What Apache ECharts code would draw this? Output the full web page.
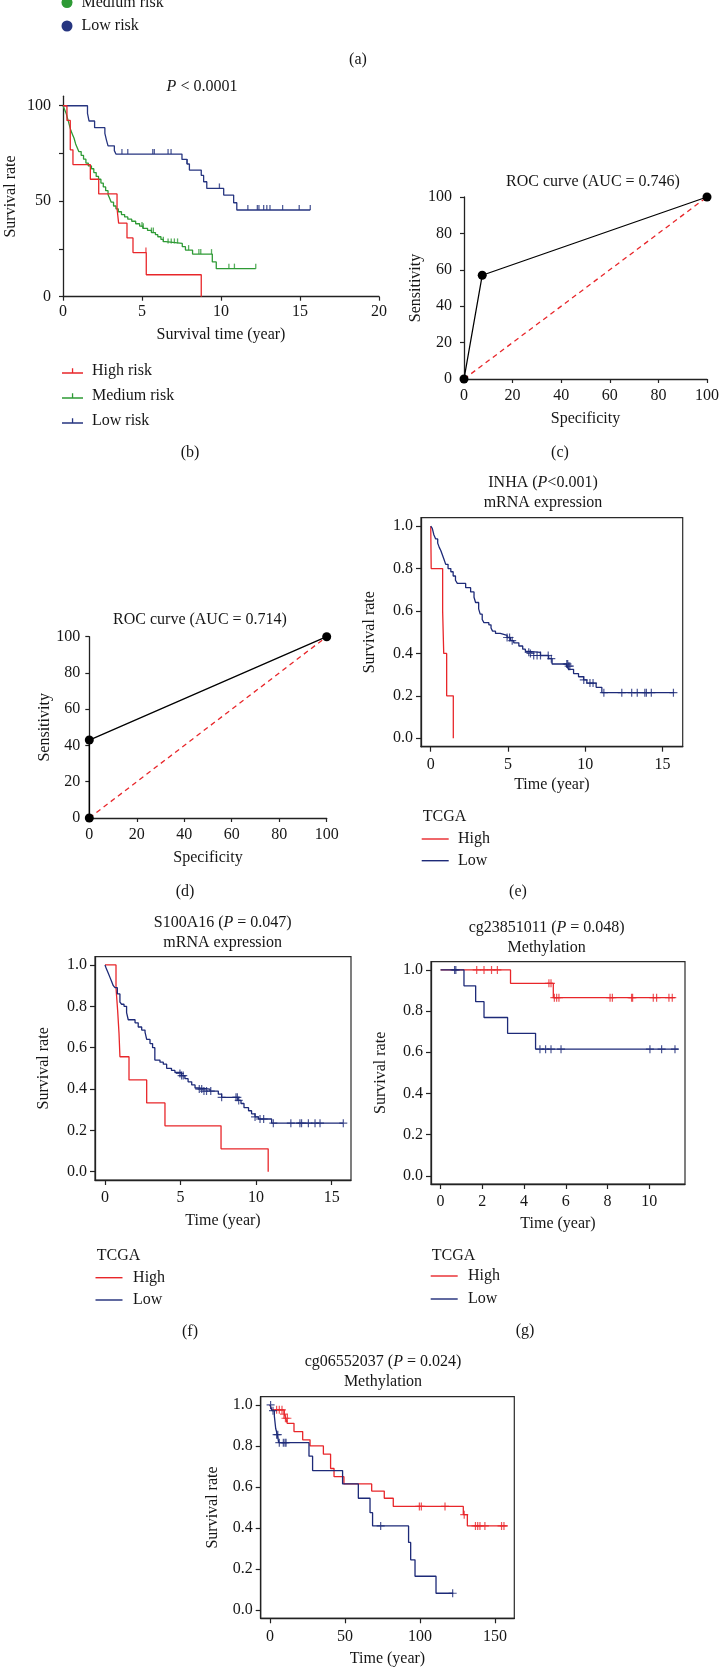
<!DOCTYPE html>
<html><head><meta charset="utf-8">
<script src="https://cdn.jsdelivr.net/npm/echarts@6/dist/echarts.min.js"></script>
<style>html,body{margin:0;padding:0;background:#fff}#c{width:720px;height:1667px}</style>
</head><body><div id="c"></div>
<script>
// ---------- DATA ----------
// (b) Kaplan-Meier by risk group: [time (year), survival %]
const bHigh = [[0,100],[0.25,92.3],[0.46,76.9],[0.63,69.2],[1.73,61.5],[2.26,53.8],[3.42,46.2],[3.52,38.5],[4.05,30.8],[4.43,23.1],[5.27,11.5],[8.75,0]];
const bHighCensor = [[5.25,23.1]];
const bMed = [[0,100],[0.1,98],[0.2,96],[0.3,93],[0.4,90],[0.5,87],[0.6,85],[0.7,83],[0.8,80],[0.9,78],[1.0,76],[1.15,74],[1.3,72],[1.45,70],[1.6,68.5],[1.8,67],[1.95,65],[2.1,63],[2.25,61.5],[2.4,59.5],[2.55,57.5],[2.7,55.5],[2.85,53.5],[2.95,51.5],[3.05,49.5],[3.2,47.5],[3.35,46],[3.5,44.5],[3.7,43],[3.9,41.8],[4.1,40.6],[4.35,39.5],[4.6,38.2],[4.85,37],[5.05,35.8],[5.35,34.7],[5.6,33.6],[5.85,32.5],[6.0,31.4],[6.2,30],[6.35,28.8],[6.5,27.9],[7.55,26.2],[7.75,24.4],[8.2,22.3],[9.45,18.2],[9.7,14.7],[12.2,14.7]];
const bMedCensor = [[5.0,36.5],[5.08,35.8],[5.6,33.6],[5.72,33.6],[6.35,28.8],[6.65,27.9],[6.85,27.9],[7.05,27.9],[7.25,27.9],[7.95,24.4],[8.6,22.3],[8.72,22.3],[9.4,22.3],[10.5,14.7],[10.85,14.7],[12.2,14.7]];
const bLow = [[0,100],[1.55,96],[1.65,92],[2.0,88.5],[2.65,85.5],[2.75,82],[2.85,79],[3.25,76.5],[3.35,74.7],[7.53,71.9],[7.85,69.5],[8.0,66.3],[8.75,63.5],[8.9,60.2],[9.1,56.7],[10.17,53.2],[10.8,49.2],[11.0,45.4],[15.65,45.4]];
const bLowCensor = [[3.73,74.7],[4.1,74.7],[5.68,74.7],[5.78,74.7],[6.65,74.7],[6.84,74.7],[7.85,69.5],[9.9,56.7],[11.7,45.4],[12.3,45.4],[12.4,45.4],[12.7,45.4],[12.9,45.4],[13.1,45.4],[13.9,45.4],[14.95,45.4],[15.65,45.4]];
const bXTicks = [0,5,10,15,20];
const bYTicks = [0,25,50,75,100];
const bYLabels = [0,50,100];

// (c),(d) ROC: [specificity, sensitivity]
const cRoc = [[0,0],[7.5,57],[100,100]];
const dRoc = [[0,0],[0,43],[100,100]];
const refDiag = [[0,0],[100,100]];
const rocTicks = [0,20,40,60,80,100];

// (e) INHA mRNA expression
const eHigh = [[0,1],[0.03,0.8],[0.77,0.6],[0.84,0.4],[1.03,0.2],[1.46,0]];
const eLow = [[0,1],[0.1,0.99],[0.2,0.96],[0.32,0.94],[0.45,0.92],[0.55,0.9],[0.65,0.885],[0.75,0.865],[0.85,0.845],[0.97,0.82],[1.12,0.8],[1.3,0.785],[1.45,0.765],[1.6,0.745],[1.72,0.73],[2.26,0.71],[2.58,0.69],[2.8,0.665],[2.9,0.64],[3.1,0.61],[3.2,0.585],[3.33,0.56],[3.44,0.545],[3.76,0.535],[3.9,0.52],[4.0,0.505],[4.19,0.494],[4.5,0.485],[4.94,0.475],[5.16,0.46],[5.37,0.45],[5.7,0.435],[5.95,0.42],[6.12,0.41],[6.34,0.405],[7.1,0.39],[7.63,0.375],[7.85,0.35],[8.8,0.34],[8.92,0.325],[9.24,0.305],[9.56,0.29],[9.89,0.275],[10.1,0.26],[10.7,0.24],[11.07,0.215],[15.75,0.215]];
const eLowCensor = [[4.94,0.475],[5.1,0.475],[5.27,0.46],[6.34,0.405],[6.45,0.4],[6.66,0.39],[6.88,0.39],[7.1,0.39],[7.6,0.39],[7.8,0.375],[8.8,0.35],[8.86,0.35],[8.92,0.34],[9.0,0.34],[9.9,0.275],[10.3,0.26],[10.5,0.26],[11.2,0.215],[12.36,0.215],[13.0,0.215],[13.36,0.215],[13.85,0.215],[13.95,0.215],[14.27,0.215],[15.7,0.215]];

// (f) S100A16 mRNA expression
const fHigh = [[0,1],[0.73,0.889],[0.84,0.778],[0.93,0.667],[0.99,0.556],[1.59,0.444],[2.76,0.333],[3.97,0.222],[7.68,0.111],[10.8,0]];
const fLow = [[0,1],[0.1,0.98],[0.22,0.96],[0.33,0.94],[0.44,0.92],[0.55,0.9],[0.66,0.89],[0.82,0.86],[0.99,0.82],[1.1,0.81],[1.26,0.8],[1.43,0.77],[1.54,0.735],[1.99,0.72],[2.2,0.7],[2.43,0.685],[2.65,0.675],[2.76,0.64],[2.98,0.62],[3.15,0.6],[3.3,0.54],[3.64,0.53],[3.86,0.52],[4.08,0.5],[4.4,0.49],[4.63,0.48],[5.07,0.465],[5.29,0.45],[5.5,0.435],[5.74,0.42],[5.96,0.405],[6.18,0.4],[6.95,0.39],[7.5,0.375],[7.72,0.36],[8.8,0.345],[9.0,0.33],[9.2,0.31],[9.5,0.295],[9.7,0.28],[9.93,0.265],[10.15,0.255],[11.03,0.235],[15.77,0.235]];
const fLowCensor = [[4.96,0.475],[5.07,0.465],[5.18,0.465],[6.24,0.4],[6.4,0.4],[6.55,0.39],[6.72,0.39],[7.0,0.39],[7.72,0.36],[8.67,0.36],[8.76,0.36],[8.85,0.345],[9.93,0.265],[10.26,0.255],[10.5,0.255],[11.14,0.235],[12.3,0.235],[12.9,0.235],[13.01,0.235],[13.46,0.235],[13.9,0.235],[14.23,0.235],[15.77,0.235]];

// (g) cg23851011 methylation
const gHigh = [[0,1],[3.35,0.935],[5.4,0.865],[11.23,0.865]];
const gHighCensor = [[1.73,1],[2.08,1],[2.44,1],[2.72,1],[5.19,0.935],[5.29,0.935],[5.45,0.865],[5.56,0.865],[5.67,0.865],[8.12,0.865],[8.23,0.865],[9.15,0.865],[9.2,0.865],[10.19,0.865],[10.35,0.865],[10.94,0.865],[11.1,0.865]];
const gLow = [[0,1],[1.12,0.923],[1.68,0.846],[2.08,0.769],[3.21,0.692],[4.55,0.615],[11.39,0.615]];
const gLowCensor = [[0.67,1],[0.73,1],[4.76,0.615],[5.03,0.615],[5.29,0.615],[5.77,0.615],[10.03,0.615],[10.59,0.615],[11.23,0.615]];

// (h) cg06552037 methylation
const hHigh = [[0,1],[1.1,0.976],[9.5,0.955],[10.5,0.935],[11.5,0.91],[16,0.87],[21.8,0.83],[26.7,0.8],[35.6,0.76],[40.4,0.69],[42.7,0.65],[49.3,0.615],[67.8,0.58],[76.2,0.545],[82.2,0.505],[128.9,0.465],[131.6,0.41],[158.2,0.41]];
const hHighCensor = [[4.4,0.976],[6.2,0.976],[8,0.976],[9.3,0.955],[10.3,0.935],[11.6,0.935],[99.6,0.505],[100.9,0.505],[116.7,0.505],[129.5,0.465],[137,0.41],[138.5,0.41],[140,0.41],[143.3,0.41],[154.4,0.41],[156,0.41]];
const hLow = [[0,1],[1.3,0.972],[2.9,0.945],[3.8,0.885],[4.9,0.855],[5.8,0.816],[26,0.75],[28.4,0.68],[48.4,0.615],[58.9,0.545],[66.7,0.475],[68.4,0.41],[92.4,0.33],[93.8,0.245],[96.7,0.165],[110.7,0.082],[122.2,0.082]];
const hLowCensor = [[0.4,1],[2.0,0.972],[4.4,0.855],[5.2,0.855],[6.2,0.816],[8.9,0.816],[10,0.816],[10.7,0.816],[73.8,0.41],[121.8,0.082]];

const survYTicks = [0,0.2,0.4,0.6,0.8,1.0];
const eXTicks = [0,5,10,15];
const gXTicks = [0,2,4,6,8,10];
const hXTicks = [0,50,100,150];

// ---------- STYLE / LAYOUT ----------
const FONT = 'Liberation Serif';
const INK = '#161616';
const RED = '#e8262a', GREEN = '#2e9a35', NAVY = '#1d2a78', BLUE_B = '#263580';
const PLUS = 'path://M3.4,0H4.6V3.4H8V4.6H4.6V8H3.4V4.6H0V3.4H3.4Z';
const VTICK = 'path://M0,0H1V6H0Z';
const FS = 16;

const grids = [
  {left:63, top:96.2, width:316, height:200.5},      // b
  {left:464, top:197, width:243, height:182},         // c
  {left:89.3, top:636.7, width:237.4, height:181.3},  // d
  {left:421, top:517.7, width:261.7, height:229, show:true}, // e
  {left:95, top:956.7, width:256, height:223.3, show:true},  // f
  {left:431, top:961.7, width:254, height:222.3, show:true}, // g
  {left:260.7, top:1396.7, width:253.6, height:221.6, show:true} // h
].map(g => Object.assign({outerBoundsMode:'none', containLabel:false, borderColor:'#2a2a2a', borderWidth:1.2, backgroundColor:'transparent'}, g));

const labelStyle = {fontFamily:FONT, fontSize:FS, color:INK};
function axis(gi, o) {
  return {
    type:'value', gridIndex:gi, min:o.min, max:o.max,
    name:o.name, nameLocation:'middle', nameGap:o.gap,
    nameTextStyle:{fontFamily:FONT, fontSize:FS, color:INK},
    axisLine:{show:true, onZero:false, lineStyle:{color:'#222', width:1.3}},
    axisTick:{show:true, inside:false, length:o.tl||4, customValues:o.ticks, lineStyle:{color:'#222', width:1.2}},
    axisLabel:Object.assign({customValues:o.labels||o.ticks, margin:o.margin, formatter:o.fmt}, labelStyle),
    splitLine:{show:false}
  };
}
const f1 = v => v.toFixed(1);

const xAxes = [
  axis(0,{min:0,max:20,ticks:bXTicks,name:'Survival time (year)',gap:30,margin:7}),
  axis(1,{min:0,max:100,ticks:rocTicks,name:'Specificity',gap:32,margin:9}),
  axis(2,{min:0,max:100,ticks:rocTicks,name:'Specificity',gap:32,margin:9}),
  axis(3,{min:-0.63,max:16.3,ticks:eXTicks,name:'Time (year)',gap:30,margin:10,tl:5}),
  axis(4,{min:-0.66,max:16.28,ticks:eXTicks,name:'Time (year)',gap:33,margin:10,tl:5}),
  axis(5,{min:-0.46,max:11.71,ticks:gXTicks,name:'Time (year)',gap:32,margin:10,tl:5}),
  axis(6,{min:-6.2,max:162.9,ticks:hXTicks,name:'Time (year)',gap:32,margin:10,tl:5})
];
const yAxes = [
  axis(0,{min:0,max:105,ticks:bYTicks,labels:bYLabels,name:'Survival rate',gap:44,margin:12}),
  axis(1,{min:0,max:100,ticks:rocTicks,name:'Sensitivity',gap:40,margin:12}),
  axis(2,{min:0,max:100,ticks:rocTicks,name:'Sensitivity',gap:36,margin:9}),
  axis(3,{min:-0.04,max:1.04,ticks:survYTicks,fmt:f1,name:'Survival rate',gap:43,margin:8,tl:5}),
  axis(4,{min:-0.04,max:1.04,ticks:survYTicks,fmt:f1,name:'Survival rate',gap:43,margin:8,tl:5}),
  axis(5,{min:-0.04,max:1.04,ticks:survYTicks,fmt:f1,name:'Survival rate',gap:42,margin:8,tl:5}),
  axis(6,{min:-0.04,max:1.04,ticks:survYTicks,fmt:f1,name:'Survival rate',gap:40,margin:8,tl:5})
];

const series = [];
function km(gi, name, data, color, z) {
  series.push({type:'line', name, xAxisIndex:gi, yAxisIndex:gi, data, step:'end', symbol:'none',
    color, lineStyle:{color, width:1.3}, z:z||2, silent:true, animation:false});
}
function censor(gi, name, data, color, sym, size, off) {
  series.push({type:'scatter', name, xAxisIndex:gi, yAxisIndex:gi, data, symbol:sym, symbolSize:size,
    symbolOffset:off||[0,0], itemStyle:{color}, z:4, silent:true, animation:false});
}
// (b)
km(0,'High risk',bHigh,RED,3); km(0,'Medium risk',bMed,GREEN,2); km(0,'Low risk',bLow,BLUE_B,2);
censor(0,'High risk censor',bHighCensor,RED,VTICK,[1.3,5],[0,-2.5]);
censor(0,'Medium risk censor',bMedCensor,GREEN,VTICK,[1.3,5],[0,-2.5]);
censor(0,'Low risk censor',bLowCensor,BLUE_B,VTICK,[1.3,5],[0,-2.5]);
// (c),(d)
[[1,cRoc],[2,dRoc]].forEach(([gi,roc]) => {
  series.push({type:'line', name:'Reference', xAxisIndex:gi, yAxisIndex:gi, data:refDiag, symbol:'none',
    lineStyle:{color:RED, width:1.3, type:[5,4]}, z:2, silent:true, animation:false});
  series.push({type:'line', name:'ROC', xAxisIndex:gi, yAxisIndex:gi, data:roc, symbol:'circle', symbolSize:9,
    showSymbol:true, clip:false, color:'#000', itemStyle:{color:'#000'}, lineStyle:{color:'#000', width:1.3}, z:3, silent:true, animation:false});
});
// (e)-(h)
const kmSets = [[3,eHigh,null,eLow,eLowCensor],[4,fHigh,null,fLow,fLowCensor],[5,gHigh,gHighCensor,gLow,gLowCensor],[6,hHigh,hHighCensor,hLow,hLowCensor]];
kmSets.forEach(([gi,hi,hic,lo,loc]) => {
  km(gi,'High',hi,RED,2);
  km(gi,'Low',lo,NAVY,3);
  if (hic) censor(gi,'High censor',hic,RED,PLUS,8);
  if (loc) censor(gi,'Low censor',loc,NAVY,PLUS,8);
});

// ---------- LEGENDS ----------
const legText = (pad) => ({fontFamily:FONT, fontSize:FS, color:INK, lineHeight:18, padding:[0,0,0,pad]});
const LINE_ICON = 'path://M0,0H27V1.4H0Z';
const B_ICON = 'path://M0,4H21V5.3H0Z M9.9,0H11.2V4H9.9Z';
const legends = [
  {data:['Medium risk','Low risk'], icon:'circle', itemWidth:11, itemHeight:11, left:61.5, top:-6.5, itemGap:5.5, textStyle:legText(4)},
  {data:['High risk','Medium risk','Low risk'], icon:B_ICON, itemWidth:21, itemHeight:5.3, left:62, top:362, itemGap:7, textStyle:legText(4)},
  {data:['High','Low'], icon:LINE_ICON, itemWidth:27, itemHeight:1.4, left:421.7, top:830, itemGap:3.7, textStyle:legText(4.3)},
  {data:['High','Low'], icon:LINE_ICON, itemWidth:27, itemHeight:1.4, left:95.5, top:1268.7, itemGap:4.3, textStyle:legText(5.6)},
  {data:['High','Low'], icon:LINE_ICON, itemWidth:27, itemHeight:1.4, left:430.7, top:1267, itemGap:5, textStyle:legText(5.3)}
].map(l => Object.assign({orient:'vertical', padding:0, selectedMode:false, itemStyle:{borderWidth:0}}, l));

// ---------- TEXT ----------
const rich = {i:{fontStyle:'italic', fontFamily:FONT, fontSize:FS, fill:INK, color:INK}};
const centerTexts = [
  [202,87,'{i|P} < 0.0001'],
  [593,182,'ROC curve (AUC = 0.746)'],
  [200,620,'ROC curve (AUC = 0.714)'],
  [543,483,'INHA ({i|P}<0.001)'],
  [543,503,'mRNA expression'],
  [222.7,922.7,'S100A16 ({i|P} = 0.047)'],
  [222.7,943,'mRNA expression'],
  [546.7,928,'cg23851011 ({i|P} = 0.048)'],
  [546.7,948,'Methylation'],
  [383,1362,'cg06552037 ({i|P} = 0.024)'],
  [383,1382,'Methylation'],
  [358,60,'(a)'],[190,453,'(b)'],[560,453,'(c)'],[185,892,'(d)'],[518,892,'(e)'],[190,1331.7,'(f)'],[525,1331,'(g)']
];
const leftTexts = [[422.7,816.7,'TCGA'],[96.7,1256,'TCGA'],[431.7,1256,'TCGA']];
const graphic = [];
centerTexts.forEach(([x,y,t]) => graphic.push({type:'text', x, y, silent:true,
  style:{text:t, rich, font:FS+'px "'+FONT+'"', fill:INK, align:'center', verticalAlign:'middle', textAlign:'center', textVerticalAlign:'middle'}}));
leftTexts.forEach(([x,y,t]) => graphic.push({type:'text', x, y, silent:true,
  style:{text:t, font:FS+'px "'+FONT+'"', fill:INK, align:'left', verticalAlign:'middle', textAlign:'left', textVerticalAlign:'middle'}}));

const chart = echarts.init(document.getElementById('c'), null, {renderer:'canvas'});
chart.setOption({
  animation:false,
  backgroundColor:'#ffffff',
  textStyle:{fontFamily:FONT},
  grid:grids, xAxis:xAxes, yAxis:yAxes, series, legend:legends, graphic
});
</script></body></html>
